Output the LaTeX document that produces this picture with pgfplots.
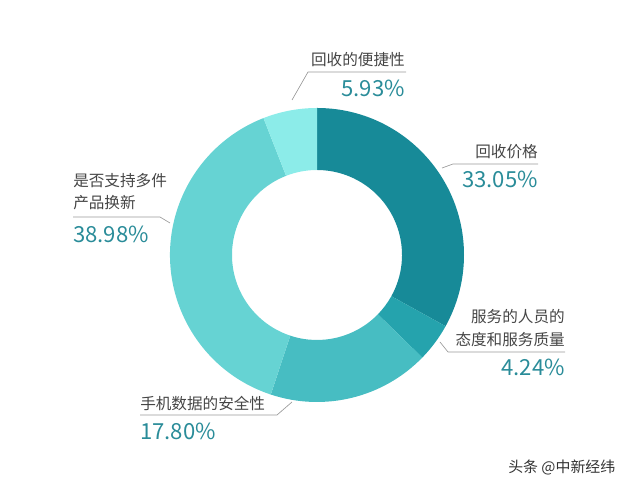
\documentclass[border=0pt]{standalone}
\usepackage{pgfplots}
\pgfplotsset{compat=1.18}
\usepackage{pgfplotstable}
\usepackage{fontspec}
\setmainfont{Noto Sans CJK SC}

\definecolor{s1}{HTML}{178A98}
\definecolor{s2}{HTML}{25A3AD}
\definecolor{s3}{HTML}{47BDC2}
\definecolor{s4}{HTML}{66D3D3}
\definecolor{s5}{HTML}{8CECE9}
\definecolor{lbl}{HTML}{454545}
\definecolor{pct}{HTML}{2A8C99}
\definecolor{lead}{HTML}{9A9A9A}

% shares, clockwise from 12 o'clock
\pgfplotstableread{
idx value
0 33.05
1 4.24
2 17.80
3 38.98
4 5.93
}\shares

\newcommand\Ro{110.25pt}
\newcommand\Ri{63.75pt}
\newcommand\slice[3]{%
  \fill[#3] ([shift={(#1:\Ro)}]axis cs:317,240) arc[start angle=#1,end angle=#2,radius=\Ro]
    -- ([shift={(#2:\Ri)}]axis cs:317,240) arc[start angle=#2,end angle=#1,radius=\Ri] -- cycle;}

\begin{document}
\begin{tikzpicture}
\pgfmathsetmacro\aA{90}
\pgfplotstablegetelem{0}{value}\of\shares \pgfmathsetmacro\aB{\aA-3.6*\pgfplotsretval}
\pgfplotstablegetelem{1}{value}\of\shares \pgfmathsetmacro\aC{\aB-3.6*\pgfplotsretval}
\pgfplotstablegetelem{2}{value}\of\shares \pgfmathsetmacro\aD{\aC-3.6*\pgfplotsretval}
\pgfplotstablegetelem{3}{value}\of\shares \pgfmathsetmacro\aE{\aD-3.6*\pgfplotsretval}
\pgfplotstablegetelem{4}{value}\of\shares \pgfmathsetmacro\aF{\aE-3.6*\pgfplotsretval}
\begin{axis}[
  x=0.75pt, y=0.75pt,
  xmin=0, xmax=640, ymin=0, ymax=495,
  hide axis, clip=false,
]
  \path (axis cs:0,0) rectangle (axis cs:640,495);
  \slice{\aA}{\aB}{s1}
  \slice{\aB}{\aC}{s2}
  \slice{\aC}{\aD}{s3}
  \slice{\aD}{\aE}{s4}
  \slice{\aE}{\aF}{s5}

  % leader lines
  \draw[lead, line width=0.5pt] (axis cs:292,395) -- (axis cs:308,423) -- (axis cs:406,423);
  \draw[lead, line width=0.5pt] (axis cs:442,327) -- (axis cs:453,331) -- (axis cs:538,331);
  \draw[lead, line width=0.5pt] (axis cs:440,153) -- (axis cs:448,143) -- (axis cs:565,143);
  \draw[lead, line width=0.5pt] (axis cs:140,80) -- (axis cs:277,80) -- (axis cs:292,93);
  \draw[lead, line width=0.5pt] (axis cs:73,278) -- (axis cs:160,278) -- (axis cs:170,272);

  % labels
  \tikzset{lb/.style={text=lbl, font=\fontsize{11.7}{13}\selectfont, inner sep=0pt},
           pc/.style={text=pct, font=\fontsize{16.6}{19}\selectfont, inner sep=0pt}}
  \node[lb, anchor=east] at (axis cs:405,435) {回收的便捷性};
  \node[pc, anchor=east] at (axis cs:405,407) {5.93\%};
  \node[lb, anchor=east] at (axis cs:538,343) {回收价格};
  \node[pc, anchor=east] at (axis cs:538,316) {33.05\%};
  \node[lb, anchor=east] at (axis cs:565,178) {服务的人员的};
  \node[lb, anchor=east] at (axis cs:565,155) {态度和服务质量};
  \node[pc, anchor=east] at (axis cs:565,128) {4.24\%};
  \node[lb, anchor=west] at (axis cs:140,91) {手机数据的安全性};
  \node[pc, anchor=west] at (axis cs:140,64) {17.80\%};
  \node[lb, anchor=west] at (axis cs:73,314) {是否支持多件};
  \node[lb, anchor=west] at (axis cs:73,292) {产品换新};
  \node[pc, anchor=west] at (axis cs:73,261) {38.98\%};

  \node[text=black!80, font=\fontsize{11.2}{13}\selectfont, inner sep=0pt, anchor=west] at (axis cs:508,28) {头条 @中新经纬};
\end{axis}
\end{tikzpicture}
\end{document}
